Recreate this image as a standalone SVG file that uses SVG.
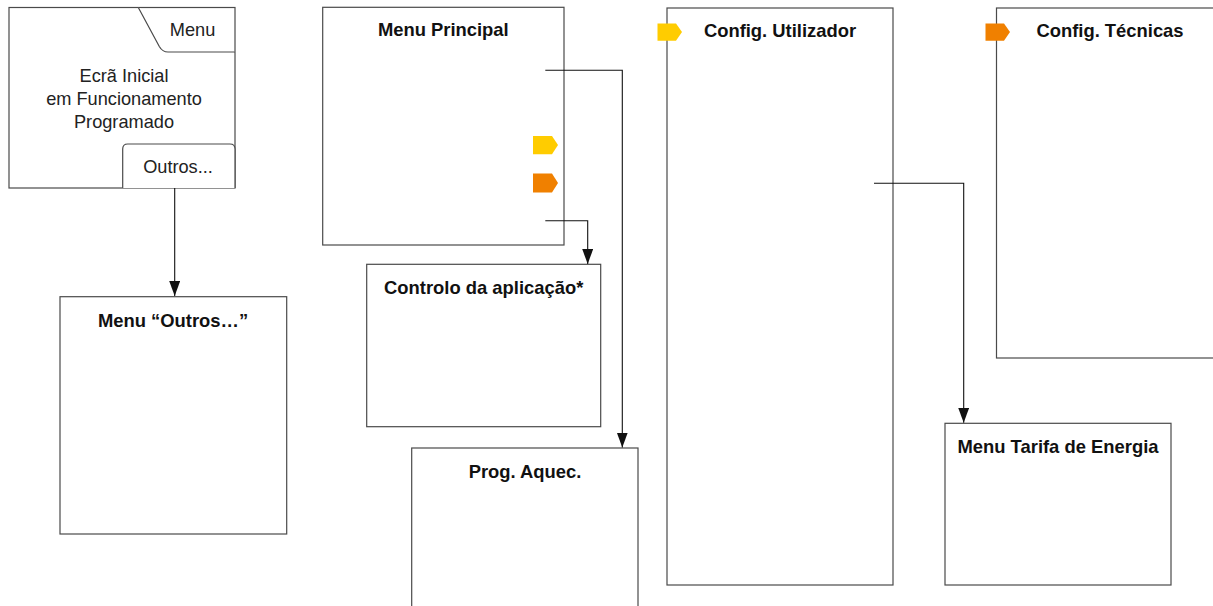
<svg xmlns="http://www.w3.org/2000/svg" width="1213" height="606" viewBox="0 0 1213 606">
<style>
.box{fill:#fff;stroke:#4a4a4a;stroke-width:1.2}
.ttl{font-family:"Liberation Sans",Arial,Helvetica,sans-serif;font-weight:bold;font-size:18.4px;fill:#111;text-anchor:middle}
.txt{font-family:"Liberation Sans",Arial,Helvetica,sans-serif;font-size:18.2px;fill:#222;text-anchor:middle}
.con{fill:none;stroke:#111;stroke-width:1.1}
.yel{fill:#FFCC00}
.org{fill:#F08000}
</style>
<defs>
<marker id="arr" markerUnits="userSpaceOnUse" markerWidth="16" markerHeight="12" refX="15" refY="5.5" orient="auto">
<path d="M0,0 L15,5.5 L0,11 z" fill="#111"/>
</marker>
</defs>
<g id="ecra-inicial">
<rect class="box" x="9" y="7.5" width="226" height="180.5"/>
<path class="box" d="M138.3,7.5 L159.3,46.5 Q162.5,52 168,52 H235"/>
<text class="txt" x="192.5" y="36">Menu</text>
<text class="txt" x="124" y="81.5">Ecrã Inicial</text>
<text class="txt" x="124" y="104.5">em Funcionamento</text>
<text class="txt" x="124" y="127.5">Programado</text>
<path class="box" d="M122.7,188 V149 Q122.7,144 127.7,144 H230 Q235,144 235,149 V188"/>
<text class="txt" x="178" y="172.7">Outros...</text>
</g>
<g id="menu-outros">
<rect class="box" x="60" y="296.7" width="226.7" height="237.3"/>
<text class="ttl" x="173" y="326.7">Menu “Outros…”</text>
</g>
<g id="menu-principal">
<rect class="box" x="322.7" y="7.3" width="241.3" height="237.7"/>
<text class="ttl" x="443.3" y="36">Menu Principal</text>
<path class="yel" d="M533,136 H552 L558,145 L552,154.3 H533 z"/>
<path class="org" d="M533,173.5 H552 L558,183 L552,192.5 H533 z"/>
</g>
<g id="controlo-aplicacao">
<rect class="box" x="366.7" y="264.3" width="234" height="162.4"/>
<text class="ttl" x="483.7" y="294">Controlo da aplicação*</text>
</g>
<g id="prog-aquec">
<rect class="box" x="411.7" y="448" width="226.3" height="200"/>
<text class="ttl" x="525" y="478">Prog. Aquec.</text>
</g>
<g id="config-utilizador">
<rect class="box" x="667" y="8" width="226" height="577"/>
<path class="yel" d="M657.5,23.5 H676 L682,32 L676,40.7 H657.5 z"/>
<text class="ttl" x="780" y="36.5">Config. Utilizador</text>
</g>
<g id="config-tecnicas">
<rect class="box" x="996.5" y="8" width="227" height="350"/>
<path class="org" d="M985.5,23.5 H1004 L1010,32 L1004,40.7 H985.5 z"/>
<text class="ttl" x="1110" y="36.5">Config. Técnicas</text>
</g>
<g id="menu-tarifa">
<rect class="box" x="945" y="423.3" width="226" height="161.7"/>
<text class="ttl" x="1058" y="452.7">Menu Tarifa de Energia</text>
</g>
<g id="connectors">
<path class="con" d="M174.7,188 V296" marker-end="url(#arr)"/>
<path class="con" d="M545.3,70.3 H622.3 V447.5" marker-end="url(#arr)"/>
<path class="con" d="M545.3,220.7 H587.7 V264" marker-end="url(#arr)"/>
<path class="con" d="M874,183.3 H963.7 V422.8" marker-end="url(#arr)"/>
</g>
</svg>
